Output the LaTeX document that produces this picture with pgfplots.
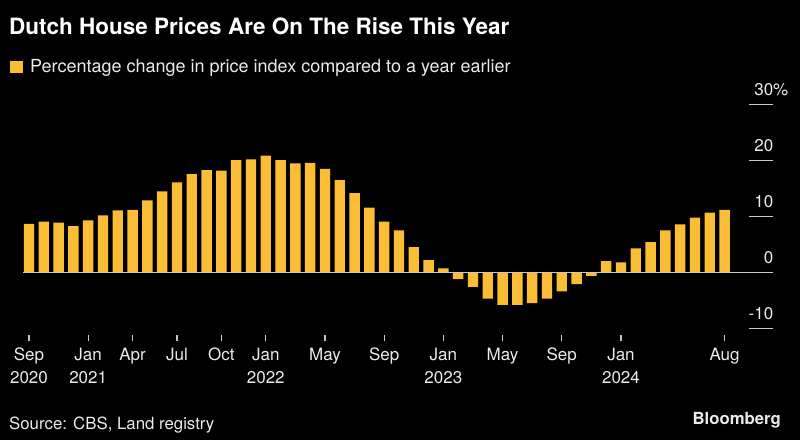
\documentclass[border=0pt]{standalone}
\usepackage{pgfplots}
\pgfplotsset{compat=1.18}
\usepackage{fontspec}
\setmainfont{TeX Gyre Heros}
\definecolor{barcol}{RGB}{251,189,53}
\definecolor{tickc}{RGB}{200,200,200}
\definecolor{txt}{RGB}{235,235,235}
\begin{document}
\begin{tikzpicture}[x=1pt,y=1pt]
\fill[black] (0,0) rectangle (800,440);
\node[anchor=base west, inner sep=0pt, white, font=\bfseries\fontsize{22.5}{27}\selectfont] at (9,405) {Dutch House Prices Are On The Rise This Year};
\fill[barcol] (10,367) rectangle (23,379);
\node[anchor=base west, inner sep=0pt, txt, font=\fontsize{18}{22}\selectfont] at (30,367) {Percentage change in price index compared to a year earlier};
\node[anchor=base west, inner sep=0pt, txt, font=\fontsize{16.8}{20}\selectfont] at (9,11) {Source: CBS, Land registry};
\node[anchor=base east, inner sep=0pt, txt, font=\bfseries\fontsize{16.7}{20}\selectfont] at (781,16) {Bloomberg};
\begin{axis}[
  at={(21.6pt,111.7pt)}, anchor=south west,
  scale only axis, width=751.8pt, height=223.6pt,
  xmin=-0.5, xmax=50.3, ymin=-10, ymax=30,
  clip=false,
  axis x line*=bottom, axis y line*=right,
  axis line style={draw=none},
  tick align=inside,
  tick style={tickc, line width=1.2pt},
  xtick style={/pgfplots/major tick length=6pt, yshift=-7pt},
  ytick style={/pgfplots/major tick length=24pt},
  ytick={-10,0,10,20,30},
  yticklabels={-10,0,10,20,30\rlap{\%}},
  yticklabel style={anchor=south east, inner sep=0pt, yshift=8.5pt, txt, font=\fontsize{17}{20}\selectfont},
  xtick={0,4,7,10,13,16,20,24,28,32,36,40,47},
  xticklabels={{Sep\\2020},{Jan\\2021},Apr,Jul,Oct,{Jan\\2022},May,Sep,{Jan\\2023},May,Sep,{Jan\\2024},Aug},
  xticklabel style={anchor=north, align=center, inner sep=0pt, yshift=-15pt, txt, font=\fontsize{17}{23}\selectfont},
  ybar, bar width=10.4pt,
]
\addplot[fill=barcol, draw=none] coordinates {
(0,8.7) (1,9.1) (2,8.9) (3,8.3) (4,9.3) (5,10.2) (6,11.1) (7,11.2)
(8,12.9) (9,14.5) (10,16.1) (11,17.6) (12,18.3) (13,18.2) (14,20.1) (15,20.2)
(16,20.9) (17,20.1) (18,19.5) (19,19.6) (20,18.5) (21,16.5) (22,14.2) (23,11.6)
(24,9.1) (25,7.5) (26,4.5) (27,2.2) (28,0.7) (29,-1.2) (30,-2.6) (31,-4.7)
(32,-5.8) (33,-5.8) (34,-5.5) (35,-4.7) (36,-3.4) (37,-2.1) (38,-0.6) (39,2.0)
(40,1.8) (41,4.3) (42,5.4) (43,7.5) (44,8.6) (45,9.8) (46,10.7) (47,11.2)
};
\draw[tickc, line width=1.2pt] (axis cs:-0.4,0) -- (axis cs:50.3,0);
\end{axis}
\end{tikzpicture}
\end{document}
